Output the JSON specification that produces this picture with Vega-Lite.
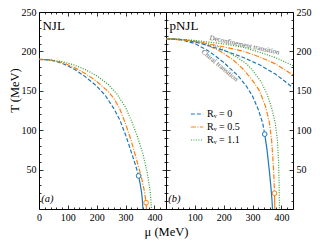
{
  "$schema": "https://vega.github.io/schema/vega-lite/v6.json",
  "padding": {"left": 7, "top": 6, "right": 2, "bottom": 4},
  "background": "white",
  "spacing": 0,
  "bounds": "flush",
  "config": {
    "view": {"stroke": "black", "strokeWidth": 1},
    "font": "Liberation Serif",
    "axis": {"domain": false, "grid": false, "ticks": true, "tickColor": "black", "tickWidth": 0.8, "labelFont": "Liberation Serif", "labelFontSize": 10, "labelColor": "black", "titleFont": "Liberation Serif", "titleFontWeight": "normal", "titleFontSize": 12.5, "titleColor": "black", "labelFlush": false, "labelOverlap": false, "minExtent": 0}
  },
  "datasets": {
    "curves": [
      {"p":"NJL","s":"0","g":"c","k":"d","m":0,"t":190},{"p":"NJL","s":"0","g":"c","k":"d","m":40,"t":189},{"p":"NJL","s":"0","g":"c","k":"d","m":80,"t":185},{"p":"NJL","s":"0","g":"c","k":"d","m":120,"t":178},{"p":"NJL","s":"0","g":"c","k":"d","m":160,"t":168},{"p":"NJL","s":"0","g":"c","k":"d","m":200,"t":156},{"p":"NJL","s":"0","g":"c","k":"d","m":230,"t":144},{"p":"NJL","s":"0","g":"c","k":"d","m":260,"t":127},{"p":"NJL","s":"0","g":"c","k":"d","m":280,"t":113},{"p":"NJL","s":"0","g":"c","k":"d","m":300,"t":94},{"p":"NJL","s":"0","g":"c","k":"d","m":320,"t":72},{"p":"NJL","s":"0","g":"c","k":"d","m":335,"t":55},{"p":"NJL","s":"0","g":"c","k":"d","m":345,"t":42},
      {"p":"NJL","s":"0","g":"c","k":"s","m":345,"t":42},{"p":"NJL","s":"0","g":"c","k":"s","m":350,"t":33},{"p":"NJL","s":"0","g":"c","k":"s","m":355,"t":22},{"p":"NJL","s":"0","g":"c","k":"s","m":358,"t":12},{"p":"NJL","s":"0","g":"c","k":"s","m":360,"t":0},
      {"p":"NJL","s":"0.5","g":"c","k":"d","m":0,"t":190},{"p":"NJL","s":"0.5","g":"c","k":"d","m":40,"t":189},{"p":"NJL","s":"0.5","g":"c","k":"d","m":80,"t":186},{"p":"NJL","s":"0.5","g":"c","k":"d","m":120,"t":180},{"p":"NJL","s":"0.5","g":"c","k":"d","m":160,"t":172},{"p":"NJL","s":"0.5","g":"c","k":"d","m":200,"t":162},{"p":"NJL","s":"0.5","g":"c","k":"d","m":240,"t":149},{"p":"NJL","s":"0.5","g":"c","k":"d","m":260,"t":140},{"p":"NJL","s":"0.5","g":"c","k":"d","m":280,"t":127},{"p":"NJL","s":"0.5","g":"c","k":"d","m":300,"t":108},{"p":"NJL","s":"0.5","g":"c","k":"d","m":320,"t":86},{"p":"NJL","s":"0.5","g":"c","k":"d","m":340,"t":60},{"p":"NJL","s":"0.5","g":"c","k":"d","m":355,"t":40},{"p":"NJL","s":"0.5","g":"c","k":"d","m":365,"t":23},{"p":"NJL","s":"0.5","g":"c","k":"d","m":371,"t":8},
      {"p":"NJL","s":"0.5","g":"c","k":"s","m":371,"t":8},{"p":"NJL","s":"0.5","g":"c","k":"s","m":372,"t":0},
      {"p":"NJL","s":"1.1","g":"c","k":"d","m":0,"t":190},{"p":"NJL","s":"1.1","g":"c","k":"d","m":40,"t":189},{"p":"NJL","s":"1.1","g":"c","k":"d","m":80,"t":187},{"p":"NJL","s":"1.1","g":"c","k":"d","m":120,"t":183},{"p":"NJL","s":"1.1","g":"c","k":"d","m":160,"t":177},{"p":"NJL","s":"1.1","g":"c","k":"d","m":200,"t":169},{"p":"NJL","s":"1.1","g":"c","k":"d","m":240,"t":158},{"p":"NJL","s":"1.1","g":"c","k":"d","m":270,"t":146},{"p":"NJL","s":"1.1","g":"c","k":"d","m":300,"t":129},{"p":"NJL","s":"1.1","g":"c","k":"d","m":320,"t":112},{"p":"NJL","s":"1.1","g":"c","k":"d","m":340,"t":93},{"p":"NJL","s":"1.1","g":"c","k":"d","m":360,"t":70},{"p":"NJL","s":"1.1","g":"c","k":"d","m":375,"t":46},{"p":"NJL","s":"1.1","g":"c","k":"d","m":385,"t":23},{"p":"NJL","s":"1.1","g":"c","k":"d","m":390,"t":0},
      {"p":"pNJL","s":"0","g":"c","k":"d","m":0,"t":216},{"p":"pNJL","s":"0","g":"c","k":"d","m":50,"t":215},{"p":"pNJL","s":"0","g":"c","k":"d","m":100,"t":210},{"p":"pNJL","s":"0","g":"c","k":"d","m":150,"t":200},{"p":"pNJL","s":"0","g":"c","k":"d","m":200,"t":186},{"p":"pNJL","s":"0","g":"c","k":"d","m":250,"t":169},{"p":"pNJL","s":"0","g":"c","k":"d","m":280,"t":155},{"p":"pNJL","s":"0","g":"c","k":"d","m":300,"t":143},{"p":"pNJL","s":"0","g":"c","k":"d","m":320,"t":126},{"p":"pNJL","s":"0","g":"c","k":"d","m":335,"t":109},{"p":"pNJL","s":"0","g":"c","k":"d","m":342,"t":95},
      {"p":"pNJL","s":"0","g":"c","k":"s","m":342,"t":95},{"p":"pNJL","s":"0","g":"c","k":"s","m":350,"t":75},{"p":"pNJL","s":"0","g":"c","k":"s","m":357,"t":52},{"p":"pNJL","s":"0","g":"c","k":"s","m":363,"t":30},{"p":"pNJL","s":"0","g":"c","k":"s","m":367,"t":12},{"p":"pNJL","s":"0","g":"c","k":"s","m":369,"t":0},
      {"p":"pNJL","s":"0.5","g":"c","k":"d","m":0,"t":216},{"p":"pNJL","s":"0.5","g":"c","k":"d","m":60,"t":215},{"p":"pNJL","s":"0.5","g":"c","k":"d","m":120,"t":211},{"p":"pNJL","s":"0.5","g":"c","k":"d","m":180,"t":202},{"p":"pNJL","s":"0.5","g":"c","k":"d","m":230,"t":190},{"p":"pNJL","s":"0.5","g":"c","k":"d","m":266,"t":178},{"p":"pNJL","s":"0.5","g":"c","k":"d","m":300,"t":163},{"p":"pNJL","s":"0.5","g":"c","k":"d","m":324,"t":150},{"p":"pNJL","s":"0.5","g":"c","k":"d","m":345,"t":130},{"p":"pNJL","s":"0.5","g":"c","k":"d","m":358,"t":110},{"p":"pNJL","s":"0.5","g":"c","k":"d","m":366,"t":87},{"p":"pNJL","s":"0.5","g":"c","k":"d","m":371,"t":60},{"p":"pNJL","s":"0.5","g":"c","k":"d","m":374,"t":40},{"p":"pNJL","s":"0.5","g":"c","k":"d","m":376,"t":20},
      {"p":"pNJL","s":"0.5","g":"c","k":"s","m":376,"t":20},{"p":"pNJL","s":"0.5","g":"c","k":"s","m":377,"t":0},
      {"p":"pNJL","s":"1.1","g":"c","k":"d","m":0,"t":216},{"p":"pNJL","s":"1.1","g":"c","k":"d","m":60,"t":215},{"p":"pNJL","s":"1.1","g":"c","k":"d","m":120,"t":212},{"p":"pNJL","s":"1.1","g":"c","k":"d","m":180,"t":206},{"p":"pNJL","s":"1.1","g":"c","k":"d","m":240,"t":194},{"p":"pNJL","s":"1.1","g":"c","k":"d","m":280,"t":184},{"p":"pNJL","s":"1.1","g":"c","k":"d","m":300,"t":176},{"p":"pNJL","s":"1.1","g":"c","k":"d","m":330,"t":161},{"p":"pNJL","s":"1.1","g":"c","k":"d","m":350,"t":146},{"p":"pNJL","s":"1.1","g":"c","k":"d","m":366,"t":128},{"p":"pNJL","s":"1.1","g":"c","k":"d","m":378,"t":110},{"p":"pNJL","s":"1.1","g":"c","k":"d","m":386,"t":88},{"p":"pNJL","s":"1.1","g":"c","k":"d","m":390,"t":60},{"p":"pNJL","s":"1.1","g":"c","k":"d","m":392,"t":30},{"p":"pNJL","s":"1.1","g":"c","k":"d","m":393,"t":0},
      {"p":"pNJL","s":"0","g":"x","k":"d","m":0,"t":216},{"p":"pNJL","s":"0","g":"x","k":"d","m":50,"t":215},{"p":"pNJL","s":"0","g":"x","k":"d","m":100,"t":212},{"p":"pNJL","s":"0","g":"x","k":"d","m":150,"t":207},{"p":"pNJL","s":"0","g":"x","k":"d","m":210,"t":200},{"p":"pNJL","s":"0","g":"x","k":"d","m":270,"t":192},{"p":"pNJL","s":"0","g":"x","k":"d","m":324,"t":183},{"p":"pNJL","s":"0","g":"x","k":"d","m":380,"t":171},{"p":"pNJL","s":"0","g":"x","k":"d","m":440,"t":154},
      {"p":"pNJL","s":"0.5","g":"x","k":"d","m":0,"t":216},{"p":"pNJL","s":"0.5","g":"x","k":"d","m":100,"t":213},{"p":"pNJL","s":"0.5","g":"x","k":"d","m":210,"t":205},{"p":"pNJL","s":"0.5","g":"x","k":"d","m":270,"t":200},{"p":"pNJL","s":"0.5","g":"x","k":"d","m":324,"t":193},{"p":"pNJL","s":"0.5","g":"x","k":"d","m":380,"t":184},{"p":"pNJL","s":"0.5","g":"x","k":"d","m":440,"t":170},
      {"p":"pNJL","s":"1.1","g":"x","k":"d","m":0,"t":216},{"p":"pNJL","s":"1.1","g":"x","k":"d","m":100,"t":214},{"p":"pNJL","s":"1.1","g":"x","k":"d","m":210,"t":209},{"p":"pNJL","s":"1.1","g":"x","k":"d","m":270,"t":205},{"p":"pNJL","s":"1.1","g":"x","k":"d","m":324,"t":199},{"p":"pNJL","s":"1.1","g":"x","k":"d","m":380,"t":192},{"p":"pNJL","s":"1.1","g":"x","k":"d","m":440,"t":182}
    ],
    "points": [
      {"p":"NJL","s":"0","m":345,"t":42},{"p":"NJL","s":"0.5","m":371,"t":8},
      {"p":"pNJL","s":"0","m":342,"t":95},{"p":"pNJL","s":"0.5","m":376,"t":20}
    ],
    "notes": [
      {"p":"NJL","kind":"name","txt":"NJL","m":12,"t":232},
      {"p":"NJL","kind":"tag","txt":"(a)","m":8,"t":13},
      {"p":"pNJL","kind":"name","txt":"pNJL","m":12,"t":232},
      {"p":"pNJL","kind":"tag","txt":"(b)","m":8,"t":13},
      {"p":"pNJL","kind":"decon","txt":"Deconfinement transition","m":272,"t":208},
      {"p":"pNJL","kind":"chiral","txt":"Chiral transition","m":186,"t":182}
    ]
  },
  "hconcat": [
    {
      "width": 127, "height": 197,
      "resolve": {"axis": {"x": "independent", "y": "independent"}},
      "layer": [
        {
          "data": {"name": "curves"},
          "transform": [{"filter": "datum.p == 'NJL' && datum.k == 'd'"}],
          "mark": {"type": "line", "strokeWidth": 1.2},
          "encoding": {
            "x": {"field": "m", "type": "quantitative", "scale": {"domain": [0, 440], "nice": false, "zero": false}, "axis": {"orient": "bottom", "values": [0,100,200,300,400], "tickSize": -4, "labelPadding": 7, "title": "μ (MeV)", "titleAnchor": "end", "titleAlign": "center", "titlePadding": 3}},
            "y": {"field": "t", "type": "quantitative", "scale": {"domain": [0, 250], "nice": false}, "axis": {"orient": "left", "values": [50,100,150,200,250], "tickSize": -4, "labelPadding": 7, "title": "T (MeV)", "titleX": -25, "titleY": 78, "titleAngle": -90, "titleAlign": "center", "titleBaseline": "middle"}},
            "color": {"field": "s", "type": "nominal", "scale": {"domain": ["0","0.5","1.1"], "range": ["#1f77b4","#ff7f0e","#2ca02c"]}, "legend": null},
            "strokeDash": {"field": "s", "type": "nominal", "scale": {"domain": ["0","0.5","1.1"], "range": [[4,2],[5,1.5,1,1.5],[1,1.5]]}, "legend": null},
            "detail": {"field": "g"}
          }
        },
        {
          "data": {"name": "curves"},
          "transform": [{"filter": "datum.p == 'NJL' && datum.k == 's'"}],
          "mark": {"type": "line", "strokeWidth": 1.2},
          "encoding": {
            "x": {"field": "m", "type": "quantitative", "axis": {"orient": "bottom", "values": [20,40,60,80,120,140,160,180,220,240,260,280,320,340,360,380,420], "tickSize": -2, "labels": false, "title": null, "maxExtent": 0}},
            "y": {"field": "t", "type": "quantitative", "axis": {"orient": "left", "values": [10,20,30,40,60,70,80,90,110,120,130,140,160,170,180,190,210,220,230,240], "tickSize": -2, "labels": false, "title": null, "maxExtent": 0}},
            "color": {"field": "s", "type": "nominal", "legend": null}
          }
        },
        {
          "data": {"name": "points"},
          "transform": [{"filter": "datum.p == 'NJL'"}],
          "mark": {"type": "point", "shape": "circle", "filled": false, "fill": "white", "fillOpacity": 1, "size": 22, "strokeWidth": 1},
          "encoding": {
            "x": {"field": "m", "type": "quantitative", "axis": {"orient": "top", "values": [100,200,300,400], "tickSize": -4, "labels": false, "title": null, "maxExtent": 0}},
            "y": {"field": "t", "type": "quantitative", "axis": {"orient": "right", "values": [50,100,150,200], "tickSize": -4, "labels": false, "title": null, "maxExtent": 0}},
            "color": {"field": "s", "type": "nominal", "legend": null}
          }
        },
        {
          "data": {"name": "notes"},
          "transform": [{"filter": "datum.p == 'NJL' && datum.kind == 'name'"}],
          "mark": {"type": "text", "align": "left", "baseline": "middle", "fontSize": 13, "font": "Liberation Serif", "color": "black"},
          "encoding": {
            "x": {"field": "m", "type": "quantitative", "axis": {"orient": "top", "values": [20,40,60,80,120,140,160,180,220,240,260,280,320,340,360,380,420], "tickSize": -2, "labels": false, "title": null, "maxExtent": 0}},
            "y": {"field": "t", "type": "quantitative", "axis": {"orient": "right", "values": [10,20,30,40,60,70,80,90,110,120,130,140,160,170,180,190,210,220,230,240], "tickSize": -2, "labels": false, "title": null, "maxExtent": 0}},
            "text": {"field": "txt"}
          }
        },
        {
          "data": {"name": "notes"},
          "transform": [{"filter": "datum.p == 'NJL' && datum.kind == 'tag'"}],
          "mark": {"type": "text", "align": "left", "baseline": "middle", "fontSize": 10.5, "fontStyle": "italic", "font": "Liberation Serif", "color": "black"},
          "encoding": {
            "x": {"field": "m", "type": "quantitative", "axis": null},
            "y": {"field": "t", "type": "quantitative", "axis": null},
            "text": {"field": "txt"}
          }
        }
      ]
    },
    {
      "width": 127, "height": 197,
      "resolve": {"axis": {"x": "independent", "y": "independent"}},
      "layer": [
        {
          "data": {"name": "curves"},
          "transform": [{"filter": "datum.p == 'pNJL' && datum.k == 'd'"}],
          "mark": {"type": "line", "strokeWidth": 1.2},
          "encoding": {
            "x": {"field": "m", "type": "quantitative", "scale": {"domain": [0, 440], "nice": false, "zero": false}, "axis": {"orient": "bottom", "values": [100,200,300,400], "tickSize": -4, "labelPadding": 7, "title": null}},
            "y": {"field": "t", "type": "quantitative", "scale": {"domain": [0, 250], "nice": false}, "axis": {"orient": "right", "values": [50,100,150,200,250], "tickSize": -4, "labelPadding": 7, "title": null}},
            "color": {"field": "s", "type": "nominal", "scale": {"domain": ["0","0.5","1.1"], "range": ["#1f77b4","#ff7f0e","#2ca02c"]}, "legend": {"orient": "none", "legendX": 24, "legendY": 95, "title": null, "symbolType": "stroke", "symbolSize": 150, "symbolStrokeWidth": 1.2, "labelFont": "Liberation Serif", "labelFontSize": 10, "labelColor": "black", "labelOffset": 3, "rowPadding": 1, "labelExpr": "'Rᵥ = ' + datum.label"}},
            "strokeDash": {"field": "s", "type": "nominal", "scale": {"domain": ["0","0.5","1.1"], "range": [[4,2],[5,1.5,1,1.5],[1,1.5]]}, "legend": {"orient": "none", "legendX": 24, "legendY": 95, "title": null, "symbolType": "stroke", "symbolSize": 150, "symbolStrokeWidth": 1.2, "labelFont": "Liberation Serif", "labelFontSize": 10, "labelColor": "black", "labelOffset": 3, "rowPadding": 1, "labelExpr": "'Rᵥ = ' + datum.label"}},
            "detail": {"field": "g"}
          }
        },
        {
          "data": {"name": "curves"},
          "transform": [{"filter": "datum.p == 'pNJL' && datum.k == 's'"}],
          "mark": {"type": "line", "strokeWidth": 1.2},
          "encoding": {
            "x": {"field": "m", "type": "quantitative", "axis": {"orient": "bottom", "values": [20,40,60,80,120,140,160,180,220,240,260,280,320,340,360,380,420], "tickSize": -2, "labels": false, "title": null, "maxExtent": 0}},
            "y": {"field": "t", "type": "quantitative", "axis": {"orient": "left", "values": [10,20,30,40,60,70,80,90,110,120,130,140,160,170,180,190,210,220,230,240], "tickSize": -2, "labels": false, "title": null, "maxExtent": 0}},
            "color": {"field": "s", "type": "nominal", "legend": null}
          }
        },
        {
          "data": {"name": "points"},
          "transform": [{"filter": "datum.p == 'pNJL'"}],
          "mark": {"type": "point", "shape": "circle", "filled": false, "fill": "white", "fillOpacity": 1, "size": 22, "strokeWidth": 1},
          "encoding": {
            "x": {"field": "m", "type": "quantitative", "axis": {"orient": "top", "values": [100,200,300,400], "tickSize": -4, "labels": false, "title": null, "maxExtent": 0}},
            "y": {"field": "t", "type": "quantitative", "axis": {"orient": "left", "values": [50,100,150,200], "tickSize": -4, "labels": false, "title": null, "maxExtent": 0}},
            "color": {"field": "s", "type": "nominal", "legend": null}
          }
        },
        {
          "data": {"name": "notes"},
          "transform": [{"filter": "datum.p == 'pNJL' && datum.kind == 'name'"}],
          "mark": {"type": "text", "align": "left", "baseline": "middle", "fontSize": 13, "font": "Liberation Serif", "color": "black"},
          "encoding": {
            "x": {"field": "m", "type": "quantitative", "axis": {"orient": "top", "values": [20,40,60,80,120,140,160,180,220,240,260,280,320,340,360,380,420], "tickSize": -2, "labels": false, "title": null, "maxExtent": 0}},
            "y": {"field": "t", "type": "quantitative", "axis": {"orient": "right", "values": [10,20,30,40,60,70,80,90,110,120,130,140,160,170,180,190,210,220,230,240], "tickSize": -2, "labels": false, "title": null, "maxExtent": 0}},
            "text": {"field": "txt"}
          }
        },
        {
          "data": {"name": "notes"},
          "transform": [{"filter": "datum.p == 'pNJL' && datum.kind == 'tag'"}],
          "mark": {"type": "text", "align": "left", "baseline": "middle", "fontSize": 10.5, "fontStyle": "italic", "font": "Liberation Serif", "color": "black"},
          "encoding": {
            "x": {"field": "m", "type": "quantitative", "axis": null},
            "y": {"field": "t", "type": "quantitative", "axis": null},
            "text": {"field": "txt"}
          }
        },
        {
          "data": {"name": "notes"},
          "transform": [{"filter": "datum.kind == 'decon'"}],
          "mark": {"type": "text", "align": "center", "baseline": "middle", "fontSize": 7, "angle": 12, "font": "Liberation Serif", "color": "#555555"},
          "encoding": {
            "x": {"field": "m", "type": "quantitative", "axis": null},
            "y": {"field": "t", "type": "quantitative", "axis": null},
            "text": {"field": "txt"}
          }
        },
        {
          "data": {"name": "notes"},
          "transform": [{"filter": "datum.kind == 'chiral'"}],
          "mark": {"type": "text", "align": "center", "baseline": "middle", "fontSize": 7, "angle": 40, "font": "Liberation Serif", "color": "#555555"},
          "encoding": {
            "x": {"field": "m", "type": "quantitative", "axis": null},
            "y": {"field": "t", "type": "quantitative", "axis": null},
            "text": {"field": "txt"}
          }
        }
      ]
    }
  ],
  "resolve": {"scale": {"color": "independent", "strokeDash": "independent"}}
}
